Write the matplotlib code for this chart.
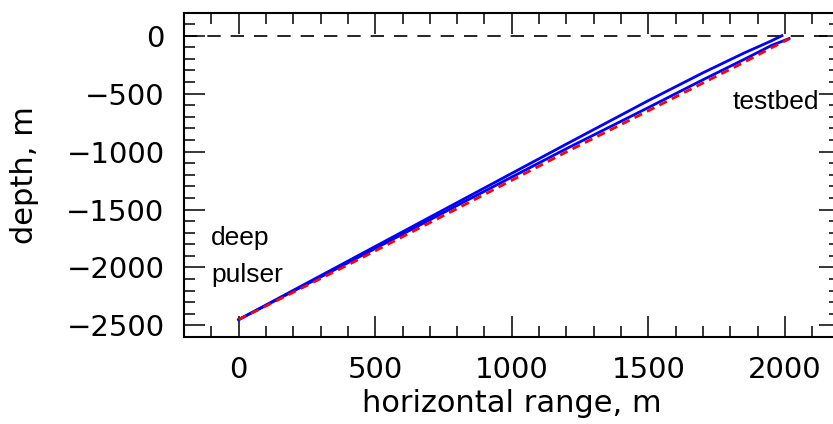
import matplotlib
matplotlib.use("Agg")
import matplotlib.pyplot as plt
from matplotlib.ticker import MultipleLocator

plt.rcParams['font.family'] = ['DejaVu Sans']

# ray paths from the deep pulser to the testbed (horizontal range, depth)
upper_x = [0, 400, 800, 1200, 1500, 1700, 1850, 1950, 1989]
upper_y = [-2450, -1945, -1440, -935, -560, -320, -150, -45, 0]

lower_x = [0, 400, 800, 1200, 1500, 1700, 1850, 1950, 2015]
lower_y = [-2450, -1960, -1465, -975, -620, -380, -205, -85, -25]

model_x = [0, 400, 800, 1200, 1500, 1700, 1850, 1950, 2015]
model_y = [-2450, -1978, -1492, -1003, -648, -408, -230, -105, -28]

xticks = [0, 500, 1000, 1500, 2000]
yticks = [0, -500, -1000, -1500, -2000, -2500]

fig = plt.figure(figsize=(8.33, 4.24), dpi=100)
ax = fig.add_axes([0.2209, 0.2052, 0.787, 0.7653])

ax.axhline(0, color='black', lw=1.2, dashes=(8, 6))
ax.plot(upper_x, upper_y, color='blue', lw=2)
ax.plot(lower_x, lower_y, color='blue', lw=2)
ax.plot(model_x, model_y, color='red', lw=2, dashes=(3, 2))

ax.set_xlim(-200, 2200)
ax.set_ylim(-2600, 200)
ax.set_xticks(xticks)
ax.set_yticks(yticks)
ax.xaxis.set_minor_locator(MultipleLocator(100))
ax.yaxis.set_minor_locator(MultipleLocator(100))
ax.tick_params(which='both', direction='in', top=True, right=True,
               width=1.1, labelsize=21, pad=14)
ax.tick_params(which='major', length=15)
ax.tick_params(which='minor', length=8)
for s in ax.spines.values():
    s.set_linewidth(1.5)

ax.set_xlabel('horizontal range, m', fontsize=22)
ax.set_ylabel('depth, m', fontsize=22)
ax.xaxis.set_label_coords(0.5, -0.16)
ax.yaxis.set_label_coords(-0.221, 0.5)

lab = ['Liberation Sans', 'DejaVu Sans']
ax.text(1810, -631, 'testbed', fontsize=19, family=lab, ha='left', va='baseline')
ax.text(-100, -1808, 'deep', fontsize=19, family=lab, ha='left', va='baseline')
ax.text(-100, -2125, 'pulser', fontsize=19, family=lab, ha='left', va='baseline')

fig.savefig('out.png', dpi=100)
